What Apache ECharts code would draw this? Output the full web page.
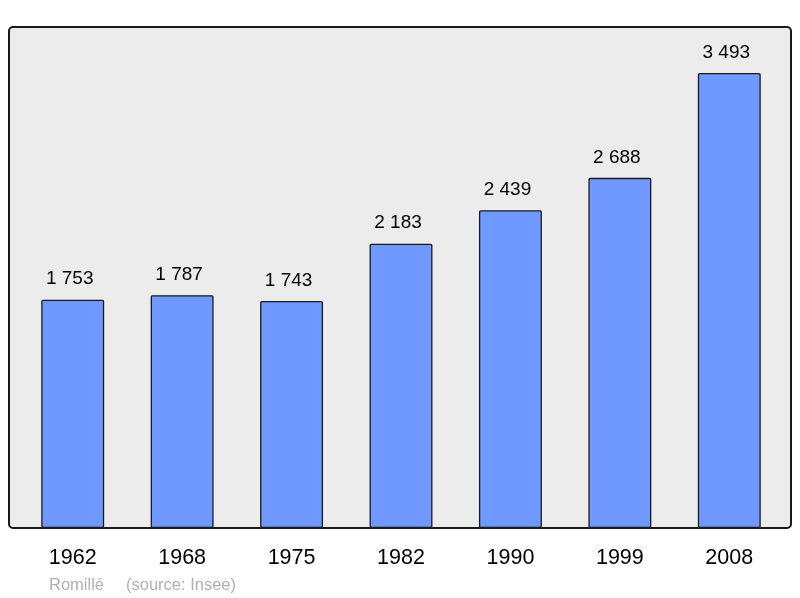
<!DOCTYPE html>
<html><head><meta charset="utf-8">
<script src="https://cdn.jsdelivr.net/npm/echarts@6/dist/echarts.min.js"></script>
<style>html,body{margin:0;padding:0;background:#fff}#c{width:800px;height:598px}</style>
</head><body><div id="c"></div>
<script>
const years = ['1962','1968','1975','1982','1990','1999','2008'];
const population = [1753,1787,1743,2183,2439,2688,3493];
const chart = echarts.init(document.getElementById('c'));
const F = '"Liberation Sans", Arial, sans-serif';
chart.setOption({
  animation:false,
  graphic:[
    {type:'rect',z:-10,shape:{x:9,y:27,width:782,height:501,r:4},style:{fill:'#ececec',stroke:'#1a1a1a',lineWidth:2}},
    {type:'text',left:49,top:577,style:{text:'Romillé',fill:'#b0b0b0',font:'16.5px '+F}},
    {type:'text',left:126,top:577,style:{text:'(source: Insee)',fill:'#b0b0b0',font:'16.5px '+F}}
  ],
  grid:{left:18,right:16,top:27,bottom:70,containLabel:false},
  xAxis:{type:'category',data:years,axisLine:{show:false},axisTick:{show:false},
    axisLabel:{margin:19,color:'#000',fontSize:21.5,fontFamily:F}},
  yAxis:{type:'value',min:0,max:3846,show:false,splitLine:{show:false}},
  series:[{type:'bar',data:population,barWidth:'57.5%',
    itemStyle:{color:'#7099ff',borderColor:'#1a1a1a',borderWidth:1.3,borderRadius:1},
    label:{show:true,position:'top',distance:11,color:'#000',fontSize:19,fontFamily:F,offset:[-3,0],
      formatter:p=>String(p.value).replace(/\B(?=(\d{3})+(?!\d))/g,' ')}}]
});
</script></body></html>
